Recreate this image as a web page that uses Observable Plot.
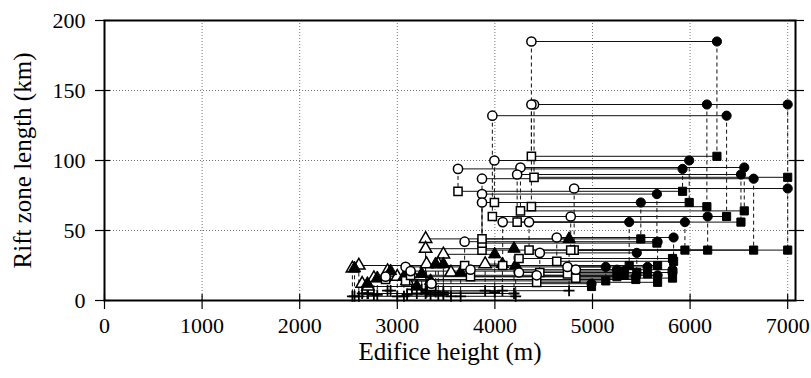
<!DOCTYPE html>
<html>
<head>
<meta charset="utf-8">
<script src="https://cdn.jsdelivr.net/npm/d3@7"></script>
<script src="https://cdn.jsdelivr.net/npm/@observablehq/plot@0.6"></script>
<style>
  html, body { margin: 0; padding: 0; background: #fff; }
  #chart svg { display: block; }
</style>
</head>
<body>
<div id="chart"></div>
<script>
// Large edifices: circle (one rift length) and square (other rift length),
// open = low height estimate, filled = high height estimate
const bigOpenHeight   = [4374, 4401, 4374, 3974, 3995, 4262, 3622, 4228, 3868, 4812, 3868, 3868, 4777, 4080, 4350, 3690, 4634, 4460, 3085, 3136, 2880, 4744, 4829, 4428, 4247, 3350, 3750];
const bigFilledHeight = [6275, 7000, 6172, 6374, 5991, 6555, 5923, 6521, 6651, 7000, 5660, 5495, 6180, 5376, 5947, 5667, 5831, 5454, 5136, 5324, 5444, 5564, 5820, 5667, 5820, 4990, 5250];
const circleLength    = [185, 140, 140, 132, 100, 95, 94, 90, 87, 80, 76, 70, 60, 56, 56, 42, 45, 34, 24, 21, 17, 24, 22, 18, 20, 12, 22];
const squareLength    = [103, 88, 67, 60, 70, 64, 78, 56, 36, 36, 41, 44, 36, 25, 36, 25, 28, 20, 14, 18, 15, 19, 16, 13, 30, 10, 17];

// Small edifices: triangle and plus symbols
const smallOpenHeight   = [2606, 3290, 3290, 3472, 2640, 2760, 2900, 2540, 3000, 3300, 3420, 2700, 3100, 3550, 3900, 3150];
const smallFilledHeight = [4213, 4760, 4196, 3998, 2694, 2795, 2931, 2562, 3068, 3393, 3472, 3200, 3341, 3649, 4077, 3250];
const triangleLength    = [25, 44, 37, 33, 12, 16, 21, 23, 17, 26, 26, 10, 14, 20, 26, 19];
const plusLength        = [3, 7, 5, 6, 5, 4, 7, 3, 3, 6, 4, 5, 4, 3, 7, 8];

const xTicks = [0, 1000, 2000, 3000, 4000, 5000, 6000, 7000];
const yTicks = [0, 50, 100, 150, 200];
const xTitle = "Edifice height (m)";
const yTitle = "Rift zone length (km)";

const big = bigOpenHeight.map((xo, i) => ({xo, xf: bigFilledHeight[i], yc: circleLength[i], ys: squareLength[i]}));
const small = smallOpenHeight.map((xo, i) => ({xo, xf: smallFilledHeight[i], yt: triangleLength[i], yp: plusLength[i]}));

const W = 811, H = 378;
const mt = 20, mb = 78, ml = 104, mr = 16;
const innerW = W - ml - mr, innerH = H - mt - mb;
const font = "'Liberation Serif', 'Times New Roman', serif";

const R = 4.6;
const openSym = {fill: "white", stroke: "black", strokeWidth: 1.5, r: R};
const fillSym = {fill: "black", stroke: "black", strokeWidth: 1, r: R};
const dash = {stroke: "#111", strokeWidth: 1, strokeDasharray: "4,3"};
const solid = {stroke: "#111", strokeWidth: 1};

const chart = Plot.plot({
  width: W, height: H,
  marginTop: mt, marginBottom: mb, marginLeft: ml, marginRight: mr,
  style: {fontFamily: font, background: "white"},
  x: {domain: [0, 7080]},
  y: {domain: [0, 200]},
  marks: [
    Plot.ruleX(xTicks.slice(1), {stroke: "#777", strokeWidth: 1, strokeDasharray: "1,2"}),
    Plot.ruleY(yTicks.slice(1), {stroke: "#777", strokeWidth: 1, strokeDasharray: "1,2"}),
    // dashed verticals
    Plot.link(big, {x1: "xo", x2: "xo", y1: "yc", y2: "ys", ...dash}),
    Plot.link(big, {x1: "xf", x2: "xf", y1: "yc", y2: "ys", ...dash}),
    Plot.link(small, {x1: "xo", x2: "xo", y1: "yt", y2: "yp", ...dash}),
    Plot.link(small, {x1: "xf", x2: "xf", y1: "yt", y2: "yp", ...dash}),
    // horizontal connectors
    Plot.link(big, {x1: "xo", x2: "xf", y1: "yc", y2: "yc", ...solid}),
    Plot.link(big, {x1: "xo", x2: "xf", y1: "ys", y2: "ys", ...solid}),
    Plot.link(small, {x1: "xo", x2: "xf", y1: "yt", y2: "yt", ...solid}),
    Plot.link(small, {x1: "xo", x2: "xf", y1: "yp", y2: "yp", ...solid}),
    // symbols
    Plot.dot(small, {x: "xo", y: "yp", symbol: "plus", stroke: "black", strokeWidth: 1.8, r: 3.6}),
    Plot.dot(small, {x: "xf", y: "yp", symbol: "plus", stroke: "black", strokeWidth: 1.8, r: 3.6}),
    Plot.dot(small, {x: "xo", y: "yt", symbol: "triangle", ...openSym}),
    Plot.dot(small, {x: "xf", y: "yt", symbol: "triangle", ...fillSym}),
    Plot.dot(big, {x: "xo", y: "ys", symbol: "square", ...openSym}),
    Plot.dot(big, {x: "xo", y: "yc", symbol: "circle", ...openSym}),
    Plot.dot(big, {x: "xf", y: "ys", symbol: "square", ...fillSym}),
    Plot.dot(big, {x: "xf", y: "yc", symbol: "circle", ...fillSym}),
    Plot.frame({stroke: "black", strokeWidth: 2}),
    // crossing ticks
    Plot.tickX(xTicks, {x: d => d, insetTop: innerH - 15, dy: 9, stroke: "black", strokeWidth: 1.2}),
    Plot.tickY(yTicks, {y: d => d, insetRight: innerW - 15, dx: -9, stroke: "black", strokeWidth: 1.2}),
    Plot.tickY(yTicks, {y: d => d, insetLeft: innerW - 15, dx: 9, stroke: "black", strokeWidth: 1.2}),
    // tick labels
    Plot.axisX(xTicks, {tickSize: 0, tickPadding: 17, fontSize: 22, label: null, fill: "black", tickFormat: d => String(d)}),
    Plot.axisY(yTicks, {tickSize: 0, tickPadding: 19, fontSize: 22, label: null, fill: "black", tickFormat: d => String(d)}),
    // titles
    Plot.text([xTitle], {frameAnchor: "bottom", dy: 59, fontSize: 25, fill: "black", textAnchor: "middle", text: d => d}),
    Plot.text([yTitle], {frameAnchor: "left", dx: -82, rotate: -90, fontSize: 25, fill: "black", textAnchor: "middle", text: d => d})
  ]
});
document.getElementById("chart").appendChild(chart);
</script>
</body>
</html>
